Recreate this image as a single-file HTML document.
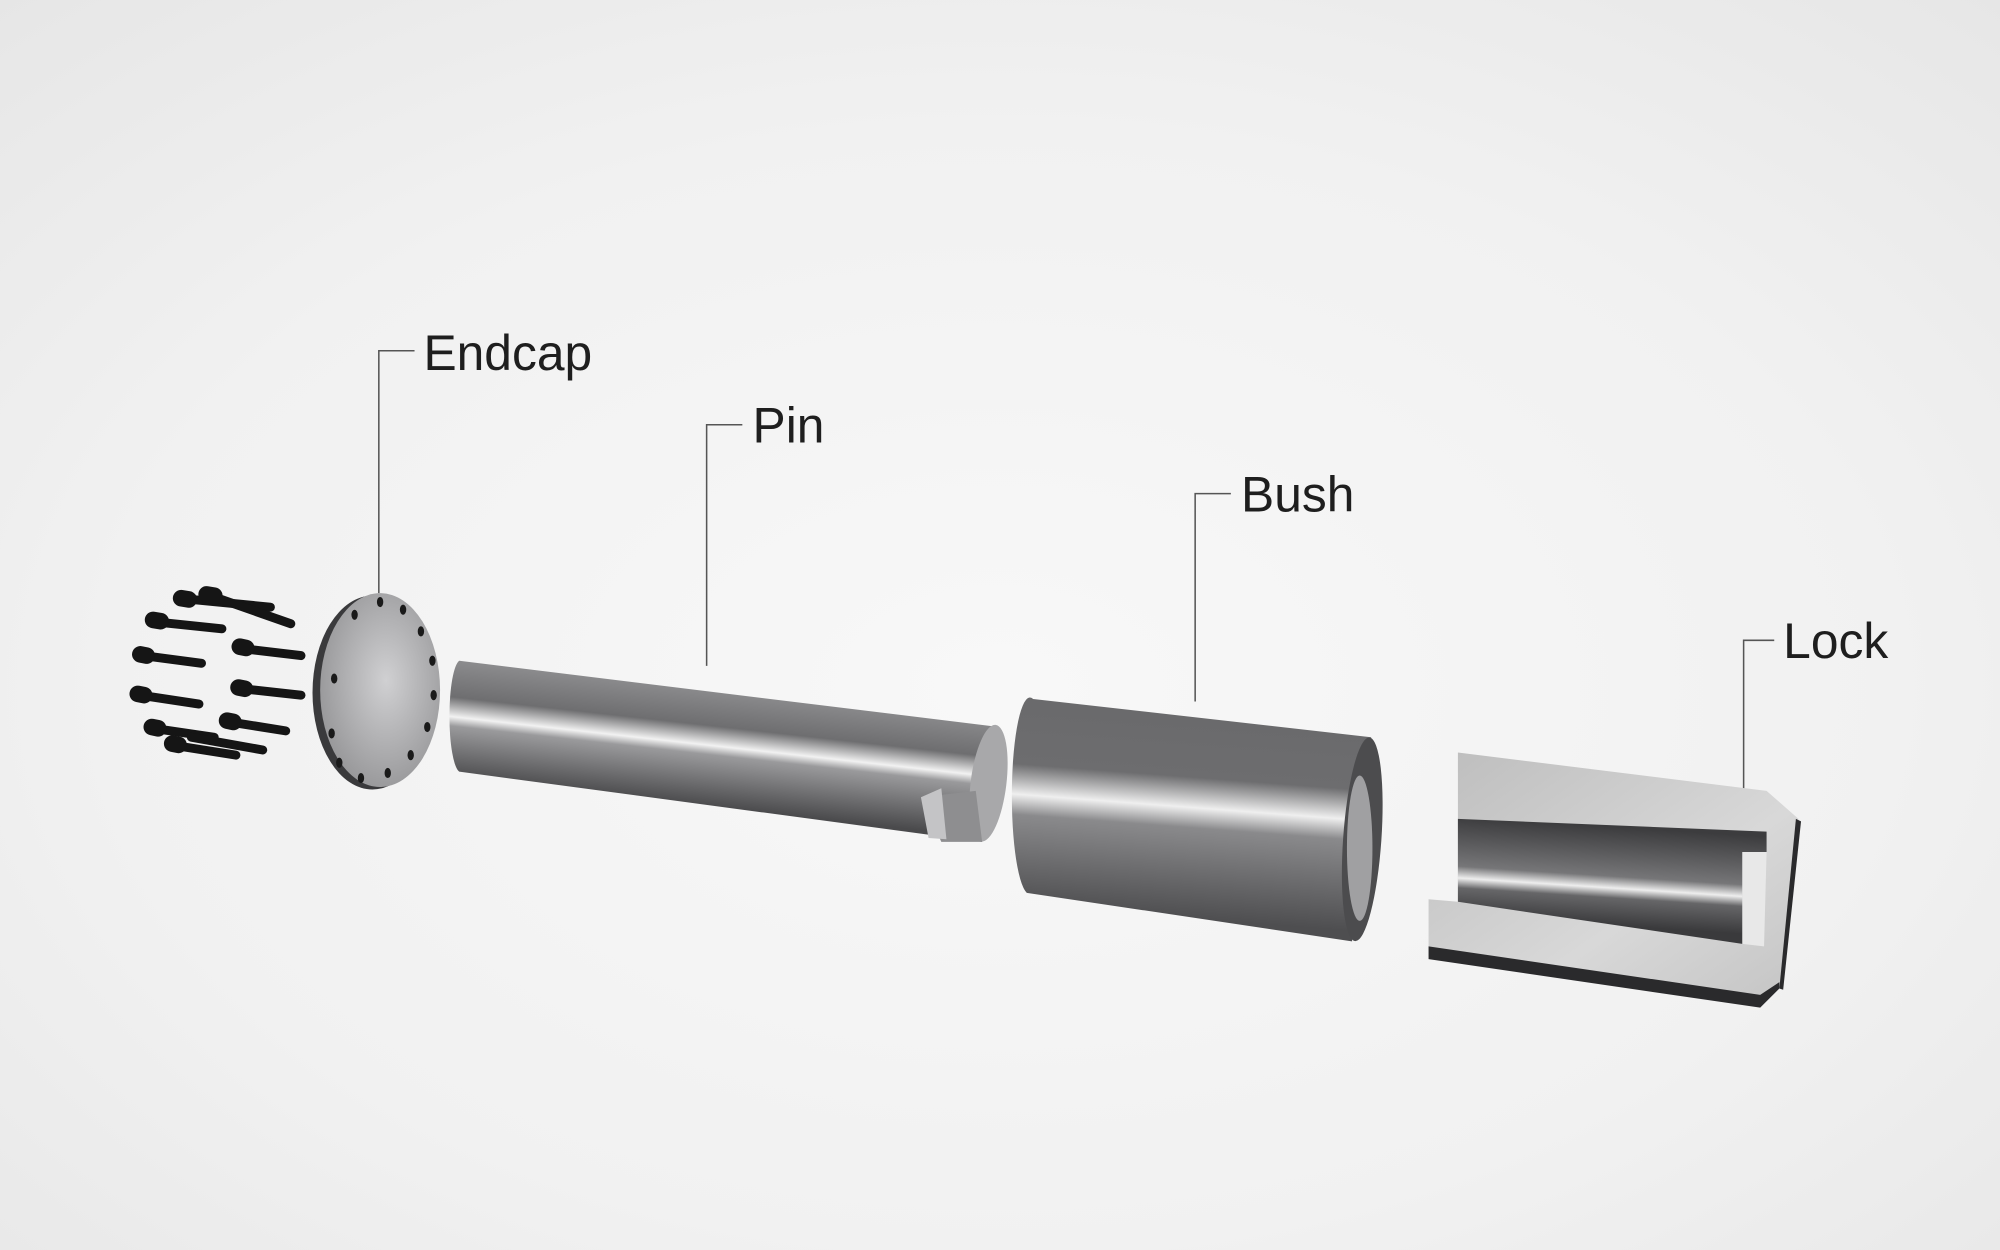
<!DOCTYPE html>
<html><head><meta charset="utf-8"><style>
html,body{margin:0;padding:0;}
body{width:2000px;height:1250px;overflow:hidden;background:#efefef;}
svg{display:block;}
text{font-family:"Liberation Sans",sans-serif;fill:#1e1e1e;font-size:39px;}
</style></head><body>
<svg width="2000" height="1250" viewBox="0 0 1568 980" preserveAspectRatio="none" xmlns="http://www.w3.org/2000/svg">
<defs>
<radialGradient id="bg" cx="0.5" cy="0.55" r="0.75">
<stop offset="0" stop-color="#f8f8f8"/><stop offset="0.6" stop-color="#f1f1f1"/><stop offset="1" stop-color="#e6e6e6"/>
</radialGradient>
<linearGradient id="pin" gradientUnits="userSpaceOnUse" x1="570" y1="543" x2="560" y2="633">
<stop offset="0" stop-color="#8a8a8c"/><stop offset="0.3" stop-color="#6e6e70"/><stop offset="0.47" stop-color="#f2f2f2"/><stop offset="0.55" stop-color="#9a9a9c"/><stop offset="1" stop-color="#4a4a4c"/>
</linearGradient>
<linearGradient id="bush" gradientUnits="userSpaceOnUse" x1="940" y1="562" x2="928" y2="720">
<stop offset="0" stop-color="#6a6a6c"/><stop offset="0.3" stop-color="#6d6d6f"/><stop offset="0.45" stop-color="#efefef"/><stop offset="0.55" stop-color="#8a8a8c"/><stop offset="1" stop-color="#4e4e50"/>
</linearGradient>
<linearGradient id="cav" gradientUnits="userSpaceOnUse" x1="1260" y1="648" x2="1255" y2="725">
<stop offset="0" stop-color="#3c3c3e"/><stop offset="0.5" stop-color="#767678"/><stop offset="0.62" stop-color="#eeeeee"/><stop offset="0.72" stop-color="#666668"/><stop offset="1" stop-color="#3a3a3c"/>
</linearGradient>
<linearGradient id="lockf" x1="0" y1="0" x2="1" y2="1">
<stop offset="0" stop-color="#bdbdbd"/><stop offset="0.6" stop-color="#d8d8d8"/><stop offset="1" stop-color="#c4c4c4"/>
</linearGradient>
<radialGradient id="cap" cx="0.55" cy="0.45" r="0.7">
<stop offset="0" stop-color="#d0d0d2"/><stop offset="1" stop-color="#8c8c8e"/>
</radialGradient>
</defs>
<rect width="1568" height="980" fill="url(#bg)"/>

<g stroke="#555" stroke-width="1.2" fill="none">
<path d="M325 275H297V465"/>
<path d="M582 333H554V522"/>
<path d="M965 387H937V550"/>
<path d="M1391 502H1367V690"/>
</g>
<text x="332" y="290">Endcap</text>
<text x="590" y="347">Pin</text>
<text x="973" y="401">Bush</text>
<text x="1398" y="516">Lock</text>

<g stroke="#151515" stroke-linecap="round">
<g stroke-width="7">
<line x1="150" y1="470" x2="212" y2="476"/><line x1="168" y1="468" x2="228" y2="489"/>
<line x1="126" y1="488" x2="174" y2="493"/><line x1="186" y1="508" x2="236" y2="514"/>
<line x1="112" y1="514" x2="158" y2="520"/><line x1="190" y1="540" x2="236" y2="545"/>
<line x1="110" y1="545" x2="156" y2="552"/><line x1="180" y1="566" x2="224" y2="573"/>
<line x1="120" y1="571" x2="168" y2="578"/><line x1="134" y1="584" x2="185" y2="592"/>
<line x1="150" y1="578" x2="206" y2="588"/>
</g>
<g stroke-width="13">
<line x1="142" y1="469" x2="148" y2="470"/><line x1="162" y1="466" x2="168" y2="467"/>
<line x1="120" y1="486" x2="126" y2="487"/><line x1="188" y1="507" x2="193" y2="508"/>
<line x1="110" y1="513" x2="115" y2="514"/><line x1="187" y1="539" x2="192" y2="540"/>
<line x1="108" y1="544" x2="113" y2="545"/><line x1="178" y1="565" x2="183" y2="566"/>
<line x1="119" y1="570" x2="124" y2="571"/><line x1="135" y1="583" x2="140" y2="584"/>
</g>
</g>

<ellipse cx="292" cy="543" rx="47" ry="76" fill="#3a3a3c"/>
<ellipse cx="298" cy="541" rx="47" ry="76" fill="url(#cap)"/>
<g fill="#1a1a1a">
<ellipse cx="298" cy="472" rx="2.5" ry="4"/><ellipse cx="316" cy="478" rx="2.5" ry="4"/><ellipse cx="330" cy="495" rx="2.5" ry="4"/>
<ellipse cx="339" cy="518" rx="2.5" ry="4"/><ellipse cx="340" cy="545" rx="2.5" ry="4"/><ellipse cx="335" cy="570" rx="2.5" ry="4"/>
<ellipse cx="322" cy="592" rx="2.5" ry="4"/><ellipse cx="304" cy="606" rx="2.5" ry="4"/><ellipse cx="283" cy="610" rx="2.5" ry="4"/>
<ellipse cx="266" cy="598" rx="2.5" ry="4"/><ellipse cx="260" cy="575" rx="2.5" ry="4"/><ellipse cx="262" cy="532" rx="2.5" ry="4"/>
<ellipse cx="278" cy="482" rx="2.5" ry="4"/>
</g>

<path d="M360 518 L783 570 L770 660 L360 605 A9 44 0 0 1 360 518Z" fill="url(#pin)"/>
<ellipse cx="775" cy="614" rx="14" ry="46" fill="#a8a8aa" transform="rotate(7 775 614)"/>
<path d="M722 625 L765 620 L770 660 L738 660 Z" fill="#8e8e90"/>
<path d="M722 625 L738 618 L742 658 L728 657 Z" fill="#c4c4c6"/>

<path d="M810 548 L1075 578 L1060 738 L805 700 A14 76 0 0 1 810 548Z" fill="url(#bush)"/>
<ellipse cx="1068" cy="658" rx="15" ry="80" fill="#4c4c4e" transform="rotate(4 1068 658)"/>
<ellipse cx="1066" cy="665" rx="10" ry="57" fill="#a0a0a2"/>

<path d="M1143 590 L1385 620 L1410 642 L1395 775 L1380 788 L1120 750 L1120 705 L1143 707 Z" fill="url(#lockf)"/>
<path d="M1120 742 L1380 780 L1395 770 L1395 775 L1380 790 L1120 752 Z" fill="#2a2a2c"/>
<path d="M1408 642 L1395 775 L1398 776 L1412 644Z" fill="#2a2a2c"/>
<path d="M1143 642 L1385 652 L1385 668 L1366 668 L1366 740 L1143 707 Z" fill="url(#cav)"/>
<path d="M1366 668 L1385 668 L1383 742 L1366 740Z" fill="#e8e8e8"/>
</svg>
</body></html>
